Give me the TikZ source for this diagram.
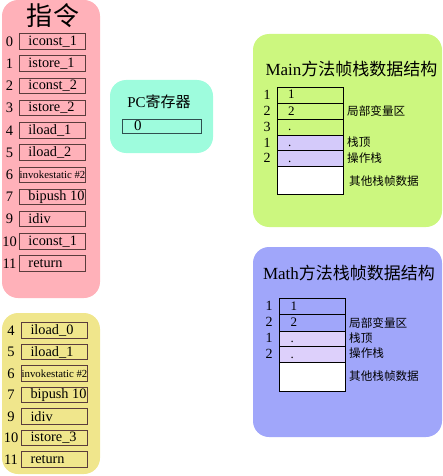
\documentclass[tikz,border=0pt]{standalone}
\usepackage{fontspec}
\setmainfont{Liberation Serif}
\newfontfamily\cjk{Noto Sans CJK SC}
\definecolor{pinkbg}{HTML}{FFB1B9}
\definecolor{yellowbg}{HTML}{F0E68C}
\definecolor{cyanbg}{HTML}{9EFCDD}
\definecolor{greenbg}{HTML}{CCF77F}
\definecolor{bluebg}{HTML}{A0A6FA}
\definecolor{lavA}{HTML}{D4CAFA}
\definecolor{lavB}{HTML}{DDD0FB}
\definecolor{ibord}{HTML}{5A3C3C}
\definecolor{pcbord}{HTML}{2F4F4F}
\newcommand{\ilab}[1]{\makebox[66pt][l]{\hspace*{9pt}#1}}
\newcommand{\ilabsmall}{\makebox[66pt][c]{\fontsize{10.8}{10.8}\selectfont invokestatic \#2}}
\newcommand{\clabtxt}[1]{\makebox[66pt][l]{\hspace*{11pt}#1}}
\tikzset{
  panel/.style={rounded corners=16pt, draw=none},
  ibox/.style={draw=ibord, line width=0.9pt, minimum height=15.5pt, inner xsep=0pt, inner ysep=0pt, font=\fontsize{14.3}{14.3}\selectfont},
  inum/.style={font=\fontsize{14.5}{14.5}\selectfont, inner sep=0pt},
  cellA/.style={draw=black, line width=0.7pt, minimum width=66pt, inner xsep=0pt, inner ysep=0pt, text height=8pt, text depth=0pt, font=\fontsize{13}{13}\selectfont},
  cnum/.style={font=\fontsize{14}{14}\selectfont, inner sep=0pt},
  clab/.style={font=\cjk\fontsize{11.6}{12}\selectfont, anchor=west, inner sep=0pt},
  ttl/.style={font=\fontsize{17}{17}\selectfont, inner sep=0pt}
}
\begin{document}
\begin{tikzpicture}[x=1pt,y=-1pt]
\useasboundingbox (0,0) rectangle (443,476);
% panels
\fill[pinkbg, panel] (2,0) rectangle (100,298);
\fill[yellowbg, panel] (2,313) rectangle (100,474);
\fill[cyanbg, panel] (110,80) rectangle (213,153);
\fill[greenbg, panel] (253,34) rectangle (442,227);
\fill[bluebg, panel] (253,247) rectangle (442,437);

% pink instructions
\node[font=\cjk\fontsize{26}{26}\selectfont, inner sep=0pt] (title) at (53,16) {指令};
\foreach \n/\t [count=\i from 0] in {0/\ilab{iconst\_1},1/\ilab{istore\_1},2/\ilab{iconst\_2},3/\ilab{istore\_2},4/\ilab{iload\_1},5/\ilab{iload\_2},6/\ilabsmall,7/\ilab{bipush 10},9/\ilab{idiv},10/\ilab{iconst\_1},11/\ilab{return}}{
  \node[ibox] (p\i) at (52.5,{41.5+22.2*\i}) {\t};
  \node[inum] (pn\i) at (9.5,{41.5+22.2*\i}) {\n};
}
% yellow instructions
\foreach \n/\t [count=\i from 0] in {4/\ilab{iload\_0},5/\ilab{iload\_1},6/\ilabsmall,7/\ilab{bipush 10},9/\ilab{idiv},10/\ilab{istore\_3},11/\ilab{return}}{
  \node[ibox] (y\i) at (54.5,{330.5+21.5*\i}) {\t};
  \node[inum] (yn\i) at (11,{330.5+21.5*\i}) {\n};
}

% PC register
\node[font=\fontsize{15}{15}\selectfont, inner sep=0pt] (pct) at (159,102) {PC{\cjk 寄存器}};
\node[draw=pcbord, line width=0.9pt, minimum width=79pt, minimum height=14pt, inner xsep=0pt, inner ysep=0pt, font=\fontsize{15}{15}\selectfont] (pc) at (161.5,126) {\makebox[79pt][l]{\hspace*{12pt}0}};

% Main frame
\node[ttl] (mt) at (351.5,69) {Main{\cjk 方法帧栈数据结构}};
\node[cellA, fill=greenbg, minimum height=16pt] (m1) at (310,95) {\clabtxt{1}};
\node[cellA, fill=greenbg, minimum height=16pt] (m2) at (310,111) {\clabtxt{2}};
\node[cellA, fill=greenbg, minimum height=16pt] (m3) at (310,127) {\clabtxt{.}};
\node[cellA, fill=lavA, minimum height=15pt] (m4) at (310,142.5) {\clabtxt{.}};
\node[cellA, fill=lavA, minimum height=16pt] (m5) at (310,158) {\clabtxt{.}};
\node[cellA, fill=white, minimum height=28pt] (m6) at (310,180) {};
\foreach \n [count=\i] in {1,2,3,1,2}{\node[cnum] (mn\i) at (267,{95+15.8*(\i-1)}) {\n};}
\node[clab] (ml1) at (347,111) {局部变量区};
\node[clab] (ml2) at (347,142) {栈顶};
\node[clab] (ml3) at (347,158) {操作栈};
\node[clab] (ml4) at (349,181) {其他栈帧数据};

% Math frame
\node[ttl] (at) at (349,273) {Math{\cjk 方法栈帧数据结构}};
\node[cellA, fill=bluebg, minimum height=16pt] (a1) at (312.5,306) {\clabtxt{1}};
\node[cellA, fill=bluebg, minimum height=17pt] (a2) at (312.5,322.5) {\clabtxt{2}};
\node[cellA, fill=lavB, minimum height=15pt] (a3) at (312.5,338.5) {\clabtxt{.}};
\node[cellA, fill=lavB, minimum height=16pt] (a4) at (312.5,354) {\clabtxt{.}};
\node[cellA, fill=white, minimum height=29pt] (a5) at (312.5,376.5) {};
\foreach \n [count=\i] in {1,2,1,2}{\node[cnum] (an\i) at (269,{306+16*(\i-1)}) {\n};}
\node[clab] (al1) at (349,323) {局部变量区};
\node[clab] (al2) at (349,338) {栈顶};
\node[clab] (al3) at (349,353) {操作栈};
\node[clab] (al4) at (349,376) {其他栈帧数据};
\end{tikzpicture}
\end{document}
